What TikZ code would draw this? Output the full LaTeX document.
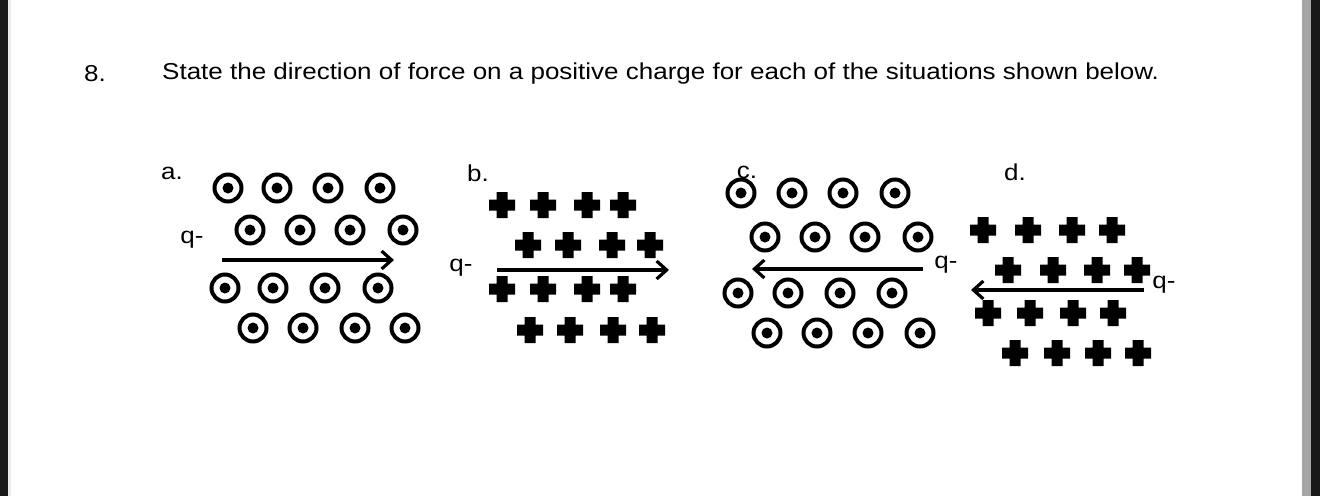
\documentclass[tikz,border=0pt]{standalone}
\usepackage{fontspec}
\setmainfont{Liberation Sans}[FakeStretch=1.13]
\usetikzlibrary{arrows.meta}
\tikzset{
  bdot/.style={circle,draw,line width=4pt,minimum size=27pt,inner sep=0pt,
    path picture={\fill (path picture bounding box.center) circle (5.5pt);}},
  plus/.style={minimum size=26pt,inner sep=0pt,
    path picture={\fill ([xshift=-13pt,yshift=-5.5pt]path picture bounding box.center) rectangle ++(26pt,11pt)
                         ([xshift=-5.5pt,yshift=-13pt]path picture bounding box.center) rectangle ++(11pt,26pt);}},
  vel/.style={line width=3.8pt,-{Straight Barb[length=10pt,width=18pt,line width=3.2pt]}},
  lbl/.style={font=\fontsize{23}{26}\selectfont,inner sep=0pt}
}
\begin{document}
\begin{tikzpicture}[x=1pt,y=-1pt]
\useasboundingbox (0,0) rectangle (1320,496);
\fill[black!90] (0,0) rectangle (8,496);
\fill[black!8] (8,0) rectangle (11,496);
\fill[black!35] (1302,0) rectangle (1311,496);
\fill[black!90] (1311,0) rectangle (1320,496);
\node[lbl,anchor=west] (n8) at (84,74) {8.};
\node[lbl,anchor=west] (title) at (162,74) {State the direction of force on a positive charge for each of the situations shown below.};
% a
\node[lbl] (la) at (172,173) {a.};
\foreach \x [count=\i] in {228,277,328,380} \node[bdot] (a1\i) at (\x,188) {};
\foreach \x [count=\i] in {250,300,350,403} \node[bdot] (a2\i) at (\x,230) {};
\foreach \x [count=\i] in {225,273,325,378} \node[bdot] (a3\i) at (\x,288) {};
\foreach \x [count=\i] in {253,303,355,405} \node[bdot] (a4\i) at (\x,328) {};
\node[lbl] (qa) at (192,240) {q-};
\coordinate (as) at (222,260); \coordinate (ae) at (394,260);
\draw[vel] (as) -- (ae);
% b
\node[lbl] (lb) at (478,173) {b.};
\foreach \x [count=\i] in {502,543,587,623} \node[plus] (b1\i) at (\x,205) {};
\foreach \x [count=\i] in {528,568,612,650} \node[plus] (b2\i) at (\x,245) {};
\foreach \x [count=\i] in {502,543,587,623} \node[plus] (b3\i) at (\x,289) {};
\foreach \x [count=\i] in {530,570,613,652} \node[plus] (b4\i) at (\x,330) {};
\node[lbl] (qb) at (461,268) {q-};
\coordinate (bs) at (497,270); \coordinate (be) at (669,270);
\draw[vel] (bs) -- (be);
% c
\node[lbl] (lc) at (747,172) {c.};
\foreach \x [count=\i] in {741,792,843,895} \node[bdot] (c1\i) at (\x,193) {};
\foreach \x [count=\i] in {765,815,865,918} \node[bdot] (c2\i) at (\x,237) {};
\foreach \x [count=\i] in {738,788,840,892} \node[bdot] (c3\i) at (\x,293) {};
\foreach \x [count=\i] in {767,817,868,920} \node[bdot] (c4\i) at (\x,333) {};
\node[lbl] (qc) at (946,265) {q-};
\coordinate (cs) at (923,269); \coordinate (ce) at (752,269);
\draw[vel] (cs) -- (ce);
% d
\node[lbl] (ld) at (1015,172) {d.};
\foreach \x [count=\i] in {983,1028,1072,1112} \node[plus] (d1\i) at (\x,230) {};
\foreach \x [count=\i] in {1008,1053,1097,1137} \node[plus] (d2\i) at (\x,270) {};
\foreach \x [count=\i] in {988,1030,1073,1113} \node[plus] (d3\i) at (\x,313) {};
\foreach \x [count=\i] in {1015,1057,1098,1138} \node[plus] (d4\i) at (\x,353) {};
\node[lbl] (qd) at (1164,285) {q-};
\coordinate (ds) at (1144,290); \coordinate (de) at (971,290);
\draw[vel] (ds) -- (de);
\end{tikzpicture}
\end{document}
